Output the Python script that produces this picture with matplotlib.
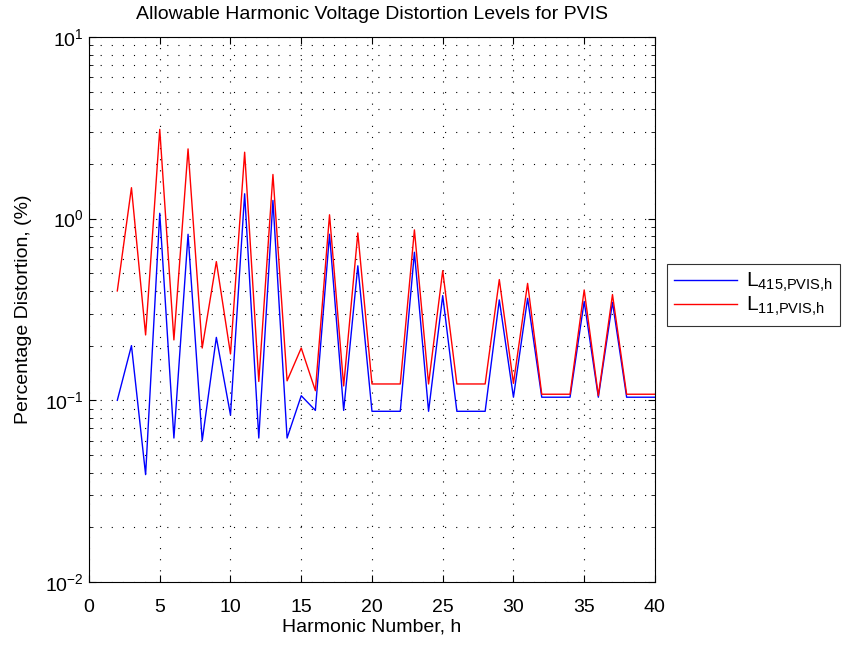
import matplotlib
matplotlib.use("Agg")
import matplotlib.pyplot as plt
from matplotlib.ticker import LogLocator, NullFormatter

plt.rcParams["font.family"] = ["Liberation Sans", "DejaVu Sans"]
plt.rcParams["mathtext.fontset"] = "custom"
plt.rcParams["mathtext.rm"] = "Liberation Sans"
plt.rcParams["mathtext.it"] = "Liberation Sans"

# harmonic numbers 2..40
harmonics = list(range(2, 41))

# L_415,PVIS,h (blue)
l415 = [0.10, 0.20, 0.039, 1.07, 0.062, 0.82, 0.060, 0.222, 0.083, 1.37,
        0.062, 1.26, 0.062, 0.106, 0.088, 0.82, 0.088, 0.55, 0.087, 0.087,
        0.087, 0.653, 0.087, 0.377, 0.087, 0.087, 0.087, 0.357, 0.104, 0.364,
        0.104, 0.104, 0.104, 0.350, 0.104, 0.346, 0.104, 0.104, 0.104]

# L_11,PVIS,h (red)
l11 = [0.40, 1.48, 0.229, 3.10, 0.215, 2.42, 0.194, 0.58, 0.18, 2.32,
       0.127, 1.75, 0.128, 0.194, 0.113, 1.05, 0.12, 0.834, 0.123, 0.123,
       0.123, 0.867, 0.123, 0.517, 0.123, 0.123, 0.123, 0.462, 0.124, 0.44,
       0.108, 0.108, 0.108, 0.405, 0.106, 0.382, 0.108, 0.108, 0.108]

fig = plt.figure(figsize=(8.51, 6.45), dpi=100)
ax = fig.add_axes([0.1046, 0.0977, 0.665, 0.845])

ax.semilogy(harmonics, l415, color="blue", lw=1.0,
            label=r"L$_{\mathrm{415{,}PVIS{,}h}}$")
ax.semilogy(harmonics, l11, color="red", lw=1.0,
            label=r"L$_{\mathrm{11{,}PVIS{,}h}}$")

ax.set_xlim(0, 40)
ax.set_ylim(1e-2, 1e1)
ax.set_xticks(range(0, 41, 5))
ax.yaxis.set_major_locator(LogLocator(base=10, numticks=10))
ax.yaxis.set_minor_locator(LogLocator(base=10, subs=range(2, 10), numticks=20))
ax.yaxis.set_minor_formatter(NullFormatter())

# matlab-ish sparse dotted grid
dots = (0, (1, 9))
ax.grid(True, which="major", axis="both", linestyle=dots, color="black", lw=0.8)
ax.grid(True, which="minor", axis="y", linestyle=dots, color="black", lw=0.8)

ax.tick_params(which="both", direction="in", top=True, right=True, labelsize=14)
ax.tick_params(which="major", length=5)
ax.tick_params(which="minor", length=3)
ax.tick_params(axis="x", pad=12)

ax.set_xlabel("Harmonic Number, h", fontsize=14, labelpad=2)
ax.set_ylabel("Percentage Distortion, (%)", fontsize=14, labelpad=10)
ax.set_title("Allowable Harmonic Voltage Distortion Levels for PVIS", fontsize=14, pad=13)

leg = ax.legend(loc="center left", bbox_to_anchor=(1.021, 0.527), fontsize=15,
                handlelength=3.0, handletextpad=0.45, frameon=True, fancybox=False,
                borderpad=0.35, labelspacing=0.05, borderaxespad=0)
leg.get_frame().set_edgecolor("black")
leg.get_frame().set_linewidth(0.8)

fig.savefig("out.png", dpi=100)
